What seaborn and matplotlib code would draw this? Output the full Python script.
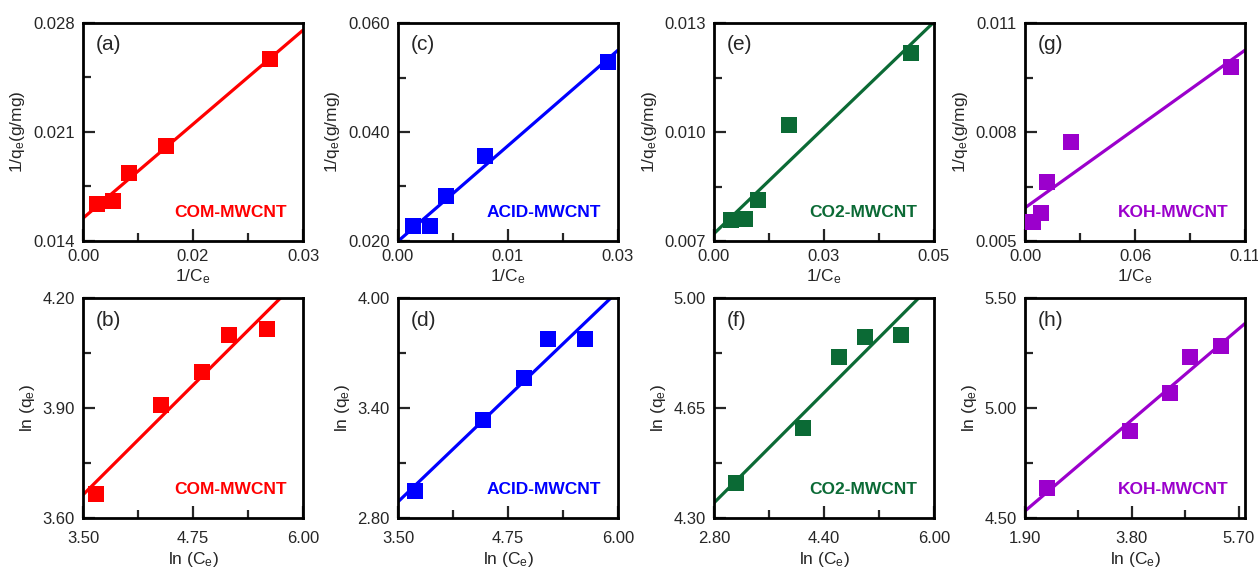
import matplotlib
matplotlib.use('Agg')
import matplotlib.pyplot as plt
import seaborn as sns

# Set seaborn style, then fonts (set_style resets font.family)
sns.set_style('ticks')
plt.rcParams['font.family'] = ['Liberation Sans', 'DejaVu Sans']
plt.rcParams['mathtext.fontset'] = 'custom'
plt.rcParams['mathtext.rm'] = 'Liberation Sans'
plt.rcParams['mathtext.it'] = 'Liberation Sans'

# Adsorbents
names = ['COM-MWCNT', 'ACID-MWCNT', 'CO2-MWCNT', 'KOH-MWCNT']
colors = ['#ff0000', '#0000ff', '#0b6a35', '#9b00cc']
top_tags = ['(a)', '(c)', '(e)', '(g)']
bottom_tags = ['(b)', '(d)', '(f)', '(h)']

# Langmuir: 1/Ce vs 1/qe
inv_ce_com = [0.0019, 0.0041, 0.0063, 0.0113, 0.0255]
inv_qe_com = [0.01635, 0.01657, 0.01839, 0.0201, 0.02567]
inv_ce_acid = [0.0020, 0.0044, 0.0065, 0.0119, 0.0286]
inv_qe_acid = [0.02276, 0.02276, 0.02822, 0.03564, 0.05282]
inv_ce_co2 = [0.0038, 0.0071, 0.0100, 0.0170, 0.0448]
inv_qe_co2 = [0.00757, 0.0076, 0.00812, 0.01019, 0.01217]
inv_ce_koh = [0.0042, 0.0079, 0.0112, 0.0229, 0.1030]
inv_qe_koh = [0.00552, 0.00577, 0.00663, 0.00773, 0.0098]

# Freundlich: ln Ce vs ln qe
ln_ce_com = [3.650, 4.383, 4.853, 5.154, 5.594]
ln_qe_com = [3.666, 3.907, 3.997, 4.098, 4.115]
ln_ce_acid = [3.690, 4.461, 4.936, 5.202, 5.628]
ln_qe_acid = [2.946, 3.333, 3.562, 3.775, 3.775]
ln_ce_co2 = [3.115, 4.090, 4.623, 4.996, 5.515]
ln_qe_co2 = [4.410, 4.585, 4.811, 4.877, 4.883]
ln_ce_koh = [2.286, 3.770, 4.471, 4.827, 5.379]
ln_qe_koh = [4.636, 4.894, 5.068, 5.230, 5.280]

langmuir = [(inv_ce_com, inv_qe_com), (inv_ce_acid, inv_qe_acid),
            (inv_ce_co2, inv_qe_co2), (inv_ce_koh, inv_qe_koh)]
freundlich = [(ln_ce_com, ln_qe_com), (ln_ce_acid, ln_qe_acid),
              (ln_ce_co2, ln_qe_co2), (ln_ce_koh, ln_qe_koh)]

# Axis ranges and tick labels (5 ticks, every other one labelled)
top_xlim = [(0, 0.03), (0, 0.03), (0, 0.05), (0, 0.11)]
top_ylim = [(0.014, 0.028), (0.020, 0.060), (0.007, 0.013), (0.005, 0.011)]
top_xlabels = [['0.00', '0.02', '0.03'], ['0.00', '0.01', '0.03'],
               ['0.00', '0.03', '0.05'], ['0.00', '0.06', '0.11']]
top_ylabels = [['0.014', '0.021', '0.028'], ['0.020', '0.040', '0.060'],
               ['0.007', '0.010', '0.013'], ['0.005', '0.008', '0.011']]
bot_xlim = [(3.5, 6.0), (3.5, 6.0), (2.8, 6.0), (1.9, 5.81)]
bot_xtick_span = [(3.5, 6.0), (3.5, 6.0), (2.8, 6.0), (1.9, 5.7)]
bot_ylim = [(3.6, 4.2), (2.8, 4.0), (4.3, 5.0), (4.5, 5.5)]
bot_xlabels = [['3.50', '4.75', '6.00'], ['3.50', '4.75', '6.00'],
               ['2.80', '4.40', '6.00'], ['1.90', '3.80', '5.70']]
bot_ylabels = [['3.60', '3.90', '4.20'], ['2.80', '3.40', '4.00'],
               ['4.30', '4.65', '5.00'], ['4.50', '5.00', '5.50']]

fig = plt.figure(figsize=(12.58, 5.70), dpi=100)
W, H = 1258.0, 570.0
lefts = [83, 398, 714, 1025]


def tick_sets(lo, hi):
    step = (hi - lo) / 4.0
    major = [lo, lo + 2 * step, hi]
    minor = [lo + step, lo + 3 * step]
    return major, minor


def set_ticks(ax, xspan, yspan, xlabels, ylabels):
    xmaj, xmin = tick_sets(*xspan)
    ymaj, ymin = tick_sets(*yspan)
    ax.set_xticks(xmaj, labels=xlabels)
    ax.set_xticks(xmin, minor=True)
    ax.set_yticks(ymaj, labels=ylabels)
    ax.set_yticks(ymin, minor=True)


def style_axes(ax, xpad):
    for sp in ax.spines.values():
        sp.set_visible(True)
        sp.set_linewidth(2.0)
        sp.set_color('black')
    ax.tick_params(which='both', direction='in', width=1.6,
                   top=False, right=False)
    ax.tick_params(which='major', length=8.5, labelsize=12, pad=6)
    ax.tick_params(which='minor', length=6)
    ax.tick_params(axis='x', which='major', pad=xpad)


def draw(ax, x, y, color, xlim):
    ax.set_xlim(*xlim)
    sns.regplot(x=x, y=y, ax=ax, ci=None, truncate=False, marker='s',
                color=color,
                scatter_kws={'s': 120, 'linewidths': 0, 'alpha': 1, 'zorder': 3},
                line_kws={'lw': 2.3, 'zorder': 2})


def annotate(ax, tag, name, color):
    ax.text(0.06, 0.9, tag, transform=ax.transAxes, fontsize=15,
            ha='left', va='center')
    ax.text(0.925, 0.13, name, transform=ax.transAxes, fontsize=12.5,
            fontweight='bold', color=color, ha='right', va='center')


for i in range(4):
    # Langmuir panel
    ax = fig.add_axes([lefts[i] / W, 1 - 241 / H, 220 / W, 218 / H])
    x, y = langmuir[i]
    draw(ax, x, y, colors[i], top_xlim[i])
    ax.set_xlim(*top_xlim[i])
    ax.set_ylim(*top_ylim[i])
    set_ticks(ax, top_xlim[i], top_ylim[i], top_xlabels[i], top_ylabels[i])
    ax.set_xlabel(r'1/C$_\mathrm{e}$', fontsize=12.5, labelpad=2)
    ax.set_ylabel(r'1/q$_\mathrm{e}$(g/mg)', fontsize=12.5, labelpad=4)
    annotate(ax, top_tags[i], names[i], colors[i])
    style_axes(ax, 6)

    # Freundlich panel
    ax = fig.add_axes([lefts[i] / W, 1 - 518 / H, 220 / W, 220 / H])
    x, y = freundlich[i]
    draw(ax, x, y, colors[i], bot_xlim[i])
    ax.set_xlim(*bot_xlim[i])
    ax.set_ylim(*bot_ylim[i])
    set_ticks(ax, bot_xtick_span[i], bot_ylim[i], bot_xlabels[i], bot_ylabels[i])
    ax.set_xlabel(r'ln (C$_\mathrm{e}$)', fontsize=12.5, labelpad=3)
    ax.set_ylabel(r'ln (q$_\mathrm{e}$)', fontsize=12.5, labelpad=4)
    annotate(ax, bottom_tags[i], names[i], colors[i])
    style_axes(ax, 9.5)

fig.savefig('out.png', dpi=100)
